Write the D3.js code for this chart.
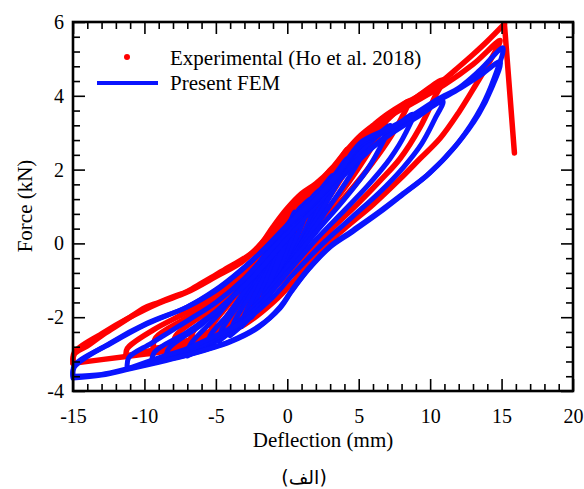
<!DOCTYPE html>
<html>
<head>
<meta charset="utf-8">
<script src="https://cdn.jsdelivr.net/npm/d3@7"></script>
<style>
  html, body { margin: 0; padding: 0; background: #fff; }
  svg { display: block; }
</style>
</head>
<body>
<svg id="chart" width="584" height="489"></svg>
<script>
// ---------------- DATA ----------------
const xMajorTicks = [-15, -10, -5, 0, 5, 10, 15, 20];
const yMajorTicks = [-4, -2, 0, 2, 4, 6];
const xMinorTicks = [-14,-13,-12,-11,-9,-8,-7,-6,-4,-3,-2,-1,1,2,3,4,6,7,8,9,11,12,13,14,16,17,18,19];
const yMinorTicks = [-3.6,-3.2,-2.8,-2.4,-1.6,-1.2,-0.8,-0.4,0.4,0.8,1.2,1.6,2.4,2.8,3.2,3.6,4.4,4.8,5.2,5.6];

const xTitle = "Deflection (mm)";
const yTitle = "Force (kN)";
const caption = "(الف)";
const legendLabels = ["Experimental (Ho et al. 2018)", "Present FEM"];

// Experimental (red) cycles: [deflection mm, force kN]
const expCycle1 = [[-1.8,-1.5],[-1.7,-1.25],[-1.0,-0.55],[-0.3,0.2],[0.5,0.95],[0.3,0.6],[-0.3,-0.15],[-1.0,-0.85],[-1.8,-1.5]];
const expCycle2 = [[-2.5,-1.8],[-2.35,-1.5],[-1.5,-0.75],[-0.5,0.25],[1.0,1.15],[0.7,0.75],[0,-0.05],[-1.0,-0.95],[-2.5,-1.8]];
const expCycle3 = [[-3.2,-2.05],[-3.0,-1.75],[-2.0,-0.95],[-1.0,-0.05],[0,0.7],[1.6,1.4],[1.3,0.95],[0.5,0.15],[-0.5,-0.75],[-1.8,-1.45],[-3.2,-2.05]];
const expCycle4 = [[-4.0,-2.3],[-3.8,-2.0],[-2.8,-1.3],[-1.5,-0.35],[0,0.6],[1.2,1.2],[2.3,1.65],[2.0,1.2],[1.0,0.35],[0,-0.4],[-1.2,-1.1],[-2.6,-1.8],[-4.0,-2.3]];
const expCycle5 = [[-4.6,-2.4],[-4.4,-2.1],[-3.2,-1.4],[-2,-0.6],[-0.5,0.35],[1,1.1],[2.2,1.6],[3.2,2.05],[2.8,1.55],[1.8,0.8],[0.5,-0.1],[-1,-1.0],[-2.5,-1.7],[-4.6,-2.4]];
const expCycle6 = [[-5.4,-2.5],[-5.2,-2.2],[-4,-1.6],[-2.5,-0.8],[-1,0.1],[0.5,0.9],[2,1.5],[3.2,2.0],[4.2,2.55],[3.8,2.1],[2.8,1.35],[1.5,0.5],[0,-0.4],[-1.5,-1.25],[-3,-1.9],[-5.4,-2.5]];
const expCycle7 = [[-6.8,-2.7],[-6.6,-2.4],[-5,-1.75],[-3.5,-1.1],[-2,-0.35],[-0.5,0.45],[1,1.1],[2.5,1.7],[4,2.35],[5.5,3.0],[5.0,2.6],[4,1.9],[2.5,1.0],[1,0.15],[-0.5,-0.7],[-2,-1.45],[-4,-2.15],[-6.8,-2.7]];
const expCycle8 = [[-8,-2.8],[-7.8,-2.5],[-6,-1.95],[-4,-1.25],[-2,-0.4],[0,0.55],[2,1.45],[4,2.3],[5.5,2.9],[7,3.45],[6.5,3.0],[5.5,2.35],[4,1.5],[2,0.55],[0,-0.45],[-2,-1.35],[-4,-2.05],[-6,-2.5],[-8,-2.8]];
const expCycle9 = [[-9.4,-2.85],[-9.2,-2.55],[-7,-2.0],[-5,-1.45],[-3,-0.75],[-1,0.1],[1,0.95],[3,1.85],[5,2.7],[7,3.35],[8.5,3.85],[8.0,3.4],[7,2.75],[5.5,1.95],[4,1.25],[2,0.4],[0,-0.55],[-2,-1.45],[-4,-2.1],[-6,-2.5],[-8,-2.75],[-9.4,-2.85]];
const expCycle10 = [[-11.3,-3.05],[-11.2,-2.85],[-9.4,-2.35],[-7,-1.85],[-5,-1.35],[-3,-0.7],[-1,0.2],[1,1.05],[3,1.9],[5,2.75],[7,3.4],[9,3.95],[10.9,4.43],[10.3,3.95],[9.3,3.15],[7.9,2.3],[6.5,1.7],[5,1.1],[3,0.35],[1,-0.45],[-1,-1.25],[-3,-1.95],[-5,-2.35],[-7,-2.65],[-9,-2.85],[-11.3,-3.05]];
const expCycle11 = [[-15,-3.2],[-14.9,-2.95],[-13,-2.45],[-11,-2.0],[-9,-1.62],[-7,-1.32],[-5,-0.9],[-3,-0.45],[-1,0.35],[1,1.2],[3,1.9],[5,2.75],[7,3.4],[9,3.85],[11,4.3],[13,4.85],[14.9,5.5],[14.2,4.95],[13.2,4.3],[12,3.55],[10.7,2.85],[9.3,2.3],[7.9,1.75],[6,1.05],[4,0.4],[2,-0.3],[0.5,-1.0],[-1,-1.6],[-3,-2.2],[-5,-2.55],[-7,-2.8],[-9,-2.95],[-11,-3.05],[-13,-3.15],[-15,-3.25]];
const expCycle12 = [[-15,-3.25],[-14.9,-3.0],[-14,-2.78],[-13,-2.5],[-12,-2.25],[-11,-2.0],[-10,-1.75],[-9,-1.6],[-8,-1.45],[-7,-1.3],[-6,-1.08],[-5,-0.85],[-4,-0.62],[-3,-0.4],[-2,-0.1],[-1,0.45],[0,0.95],[1,1.35],[2,1.62],[3,1.98],[4,2.45],[5,2.88],[6,3.2],[7,3.5],[8,3.75],[9,3.95],[10,4.2],[11,4.45],[12,4.78],[13,5.12],[14,5.48],[15.2,5.95]];
const expFailure = [[15.2,5.95],[15.9,2.45]];

// Present FEM (blue) cycles
const femCycle1 = [[-1.8,-1.7],[-1.7,-1.45],[-1.0,-0.75],[-0.3,0.05],[0.5,0.85],[0.3,0.5],[-0.3,-0.3],[-1.0,-1.05],[-1.8,-1.7]];
const femCycle2 = [[-2.5,-2.0],[-2.35,-1.7],[-1.5,-0.95],[-0.5,0.05],[1.0,1.0],[0.7,0.6],[0,-0.25],[-1.0,-1.15],[-2.5,-2.0]];
const femCycle3 = [[-3.2,-2.25],[-3.0,-1.95],[-2.0,-1.15],[-1.0,-0.25],[0,0.5],[1.6,1.2],[1.3,0.8],[0.5,0.0],[-0.5,-0.95],[-1.8,-1.65],[-3.2,-2.25]];
const femCycle4 = [[-4,-2.5],[-3.8,-2.2],[-2.8,-1.5],[-1.5,-0.55],[0,0.4],[1.2,1.0],[2.3,1.45],[2.0,1.05],[1.0,0.15],[0,-0.6],[-1.2,-1.3],[-2.6,-2.0],[-4,-2.5]];
const femCycle5 = [[-4.8,-2.65],[-4.6,-2.35],[-3.4,-1.65],[-2,-0.8],[-0.5,0.15],[1,0.9],[2.2,1.4],[3.2,1.85],[2.8,1.4],[1.8,0.6],[0.5,-0.35],[-1,-1.2],[-2.6,-1.95],[-4.8,-2.65]];
const femCycle6 = [[-5.6,-2.8],[-5.4,-2.5],[-4,-1.85],[-2.5,-1.0],[-1,-0.1],[0.5,0.7],[2,1.3],[3.2,1.8],[4.2,2.3],[3.8,1.85],[2.8,1.15],[1.5,0.3],[0,-0.6],[-1.5,-1.45],[-3,-2.1],[-5.6,-2.8]];
const femCycle7 = [[-7,-3.05],[-6.8,-2.75],[-5,-2.0],[-3.5,-1.3],[-2,-0.55],[-0.5,0.25],[1,0.9],[2.5,1.5],[4,2.1],[5.6,2.75],[5.1,2.3],[4,1.6],[2.5,0.75],[1,-0.1],[-0.5,-0.95],[-2,-1.7],[-4,-2.4],[-7,-3.05]];
const femCycle8 = [[-8.5,-3.15],[-8.3,-2.85],[-6,-2.2],[-4,-1.5],[-2,-0.65],[0,0.3],[2,1.2],[4,2.0],[5.6,2.65],[7.2,3.2],[6.7,2.75],[5.6,2.0],[4,1.2],[2,0.3],[0,-0.65],[-2,-1.6],[-4,-2.3],[-6,-2.8],[-8.5,-3.15]];
const femCycle9 = [[-9.5,-3.25],[-9.3,-2.95],[-7,-2.4],[-5,-1.85],[-3,-1.15],[-1,-0.3],[1,0.6],[3,1.45],[5,2.25],[7,2.95],[8.8,3.5],[8.3,3.0],[7.2,2.3],[5.6,1.55],[4,0.9],[2,0.1],[0,-0.8],[-2,-1.7],[-4,-2.35],[-6,-2.75],[-8,-3.05],[-9.5,-3.25]];
const femCycle10 = [[-11.2,-3.4],[-11.1,-3.1],[-9.5,-2.7],[-7,-2.1],[-5,-1.6],[-3,-0.95],[-1,-0.1],[1,0.75],[3,1.55],[5,2.3],[7,2.9],[9,3.4],[10.9,3.85],[10.3,3.35],[9.4,2.7],[8.1,2.05],[6.5,1.4],[4.5,0.7],[2.5,0.0],[0.5,-0.8],[-1,-1.45],[-3,-2.1],[-5,-2.5],[-7,-2.85],[-9,-3.1],[-11.2,-3.4]];
const femCycle11 = [[-15,-3.6],[-14.9,-3.3],[-12.4,-2.72],[-9.8,-2.18],[-7,-1.72],[-5,-1.28],[-3.8,-0.92],[-2,-0.3],[0,0.45],[2,1.15],[3.5,1.8],[5.1,2.65],[7,3.05],[8.6,3.4],[10.5,3.85],[12.1,4.2],[13.5,4.55],[14.9,4.92],[14.3,4.2],[13.4,3.5],[11.8,2.65],[9.8,1.85],[8,1.3],[6.5,0.85],[4.5,0.3],[3,-0.1],[1.5,-0.7],[0.3,-1.3],[-0.5,-1.75],[-2,-2.25],[-4,-2.65],[-7,-3.02],[-9,-3.2],[-11,-3.38],[-13,-3.55],[-15,-3.6]];
const femCycle12 = [[-15,-3.65],[-14.9,-3.35],[-12.4,-2.7],[-9.8,-2.16],[-7,-1.72],[-5,-1.25],[-3.8,-0.9],[-2,-0.3],[0,0.5],[2,1.2],[3.5,1.85],[5.1,2.72],[7,3.1],[8.6,3.43],[10.5,3.9],[12.1,4.24],[13.5,4.7],[15.1,5.3],[14.5,4.5],[13.6,3.7],[12,2.75],[10,1.92],[8,1.32],[6.5,0.88],[4.5,0.33],[3,-0.08],[1.5,-0.68],[0.3,-1.28],[-0.5,-1.72],[-2,-2.27],[-4,-2.67],[-7,-3.03],[-9,-3.22],[-11,-3.4],[-13,-3.57],[-15,-3.65]];

const expSeries = [expCycle1, expCycle2, expCycle3, expCycle4, expCycle5, expCycle6, expCycle7, expCycle8, expCycle9, expCycle10, expCycle11, expCycle12, expFailure];
const femSeries = [femCycle1, femCycle2, femCycle3, femCycle4, femCycle5, femCycle6, femCycle7, femCycle8, femCycle9, femCycle10, femCycle11, femCycle12];

// ---------------- LAYOUT ----------------
const SERIF = "'Liberation Serif', 'Times New Roman', serif";
const svg = d3.select("#chart");
const L = 73, R = 573, T = 22, B = 391;
const x = d3.scaleLinear().domain([-15, 20]).range([L, R]);
const y = d3.scaleLinear().domain([-4, 6]).range([B, T]);

const RED = "#ff0000", BLUE = "#0a14ff";

// data
const line = d3.line().x(d => x(d[0])).y(d => y(d[1])).curve(d3.curveCatmullRom.alpha(0.5));
const gData = svg.append("g");
gData.selectAll("path.exp").data(expSeries).join("path")
  .attr("class", "exp").attr("d", line)
  .attr("fill", "none").attr("stroke", RED).attr("stroke-width", 5.5)
  .attr("stroke-linejoin", "round").attr("stroke-linecap", "round");
gData.selectAll("path.fem").data(femSeries).join("path")
  .attr("class", "fem").attr("d", line)
  .attr("fill", "none").attr("stroke", BLUE).attr("stroke-width", 5)
  .attr("stroke-linejoin", "round").attr("stroke-linecap", "round");

// axes
const fmt = d => String(d);
function styleAxis(g) {
  g.attr("font-family", null).attr("font-size", null);
  g.select(".domain").remove();
  g.selectAll(".tick line").attr("stroke", "#000").attr("stroke-width", 1.6);
  g.selectAll(".tick text").style("font-size", "20px").style("font-family", SERIF).attr("fill", "#000");
}
svg.append("g").attr("transform", `translate(0,${B})`)
  .call(d3.axisBottom(x).tickValues(xMajorTicks).tickSize(-12).tickSizeOuter(0).tickPadding(18).tickFormat(fmt))
  .call(styleAxis);
svg.append("g").attr("transform", `translate(0,${B})`)
  .call(d3.axisBottom(x).tickValues(xMinorTicks).tickSize(-7).tickSizeOuter(0).tickFormat(""))
  .call(styleAxis);
svg.append("g").attr("transform", `translate(0,${T})`)
  .call(d3.axisTop(x).tickValues(xMajorTicks).tickSize(-12).tickSizeOuter(0).tickFormat(""))
  .call(styleAxis);
svg.append("g").attr("transform", `translate(0,${T})`)
  .call(d3.axisTop(x).tickValues(xMinorTicks).tickSize(-7).tickSizeOuter(0).tickFormat(""))
  .call(styleAxis);
svg.append("g").attr("transform", `translate(${L},0)`)
  .call(d3.axisLeft(y).tickValues(yMajorTicks).tickSize(-12).tickSizeOuter(0).tickPadding(9).tickFormat(fmt))
  .call(styleAxis);
svg.append("g").attr("transform", `translate(${L},0)`)
  .call(d3.axisLeft(y).tickValues(yMinorTicks).tickSize(-7).tickSizeOuter(0).tickFormat(""))
  .call(styleAxis);
svg.append("g").attr("transform", `translate(${R},0)`)
  .call(d3.axisRight(y).tickValues(yMajorTicks).tickSize(-12).tickSizeOuter(0).tickFormat(""))
  .call(styleAxis);
svg.append("g").attr("transform", `translate(${R},0)`)
  .call(d3.axisRight(y).tickValues(yMinorTicks).tickSize(-7).tickSizeOuter(0).tickFormat(""))
  .call(styleAxis);

// frame
svg.append("rect").attr("x", L).attr("y", T).attr("width", R - L).attr("height", B - T)
  .attr("fill", "none").attr("stroke", "#000").attr("stroke-width", 2.6);

// titles
svg.append("text").attr("x", 323).attr("y", 447).attr("text-anchor", "middle")
  .style("font-family", SERIF).style("font-size", "21px").text(xTitle);
svg.append("text").attr("transform", "translate(32,206) rotate(-90)").attr("text-anchor", "middle")
  .style("font-family", SERIF).style("font-size", "21px").text(yTitle);
svg.append("text").attr("x", 304).attr("y", 484).attr("text-anchor", "middle")
  .style("font-family", "'DejaVu Sans', serif").style("font-size", "19px").text(caption);

// legend
svg.append("circle").attr("cx", 127).attr("cy", 57).attr("r", 3).attr("fill", RED);
svg.append("text").attr("x", 170).attr("y", 65)
  .style("font-family", SERIF).style("font-size", "21px").text(legendLabels[0]);
svg.append("line").attr("x1", 97).attr("x2", 158).attr("y1", 83).attr("y2", 83)
  .attr("stroke", BLUE).attr("stroke-width", 4);
svg.append("text").attr("x", 170).attr("y", 90)
  .style("font-family", SERIF).style("font-size", "21px").text(legendLabels[1]);
</script>
</body>
</html>
